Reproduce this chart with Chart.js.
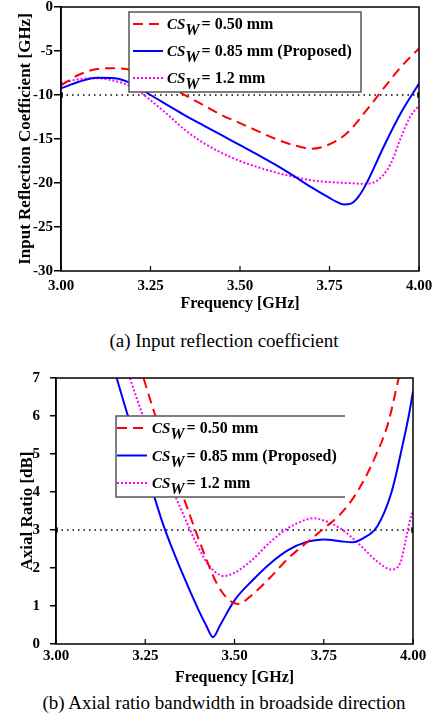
<!DOCTYPE html>
<html>
<head>
<meta charset="utf-8">
<script src="https://cdn.jsdelivr.net/npm/chart.js@4/dist/chart.umd.min.js"></script>
<style>
body { margin: 0; background: #fff; width: 435px; height: 725px; position: relative; overflow: hidden; font-family: "Liberation Serif", serif; }
canvas { position: absolute; left: 0; }
#c1 { top: 0; }
#c2 { top: 360px; }
.cap { position: absolute; left: 224px; transform: translate(-50%, -50%); font-size: 19px; white-space: nowrap; color: #000; }
</style>
</head>
<body>
<canvas id="c1" width="435" height="315"></canvas>
<canvas id="c2" width="435" height="330"></canvas>
<div class="cap" style="top:341px">(a) Input reflection coefficient</div>
<div class="cap" style="top:703px">(b) Axial ratio bandwidth in broadside direction</div>
<script>
// ---------- data ----------
const freqTicks = [3.00, 3.25, 3.50, 3.75, 4.00];
const s11Ticks = [0, -5, -10, -15, -20, -25, -30];
const arTicks = [0, 1, 2, 3, 4, 5, 6, 7];
const csWidths = ["0.50 mm", "0.85 mm (Proposed)", "1.2 mm"];
const s11Limit = -10;
const arLimit = 3;

// (a) input reflection coefficient [dB]
const s11FreqRed = [3.00, 3.05, 3.10, 3.15, 3.20, 3.25, 3.30, 3.35, 3.40, 3.45, 3.50, 3.55, 3.60, 3.65, 3.70, 3.75, 3.80, 3.85, 3.90, 3.95, 4.00];
const s11Red = [-8.9, -7.7, -7.05, -6.95, -7.2, -8.0, -9.0, -10.1, -11.2, -12.3, -13.2, -14.1, -15.0, -15.7, -16.1, -15.6, -14.3, -11.9, -9.3, -6.8, -4.7];

const s11FreqBlue = [3.00, 3.05, 3.10, 3.15, 3.20, 3.25, 3.30, 3.35, 3.40, 3.45, 3.50, 3.55, 3.60, 3.65, 3.70, 3.75, 3.77, 3.79, 3.81, 3.83, 3.85, 3.875, 3.90, 3.95, 4.00];
const s11Blue = [-9.25, -8.5, -8.05, -8.1, -8.75, -10.0, -11.2, -12.4, -13.5, -14.6, -15.7, -16.8, -17.95, -19.2, -20.5, -21.7, -22.15, -22.45, -22.35, -21.6, -20.3, -18.2, -16.0, -12.0, -8.7];

const s11FreqMag = [3.00, 3.05, 3.10, 3.15, 3.20, 3.25, 3.30, 3.35, 3.40, 3.45, 3.50, 3.55, 3.60, 3.65, 3.70, 3.75, 3.80, 3.85, 3.88, 3.90, 3.92, 3.95, 3.975, 4.00];
const s11Mag = [-8.65, -8.2, -8.1, -8.4, -9.1, -10.6, -12.3, -14.1, -15.5, -16.6, -17.5, -18.2, -18.8, -19.3, -19.7, -19.9, -20.0, -20.1, -19.8, -19.1, -17.9, -14.8, -12.5, -11.2];

// (b) axial ratio [dB]
const arFreqRed = [3.22, 3.245, 3.27, 3.30, 3.35, 3.40, 3.45, 3.48, 3.51, 3.55, 3.60, 3.65, 3.70, 3.75, 3.80, 3.85, 3.90, 3.93, 3.96, 3.98];
const arRed = [7.8, 7.0, 6.25, 5.4, 4.05, 2.75, 1.6, 1.2, 1.05, 1.3, 1.75, 2.25, 2.65, 3.04, 3.45, 4.1, 5.05, 5.8, 7.0, 7.8];

const arFreqBlue = [3.14, 3.17, 3.20, 3.25, 3.30, 3.35, 3.40, 3.42, 3.44, 3.46, 3.50, 3.55, 3.60, 3.65, 3.70, 3.75, 3.80, 3.83, 3.86, 3.90, 3.94, 3.97, 3.99, 4.00];
const arBlue = [8.0, 7.0, 6.05, 4.65, 3.15, 1.95, 0.88, 0.5, 0.18, 0.5, 1.15, 1.67, 2.12, 2.47, 2.68, 2.75, 2.7, 2.68, 2.78, 3.1, 4.0, 5.2, 6.1, 6.65];

const arFreqMag = [3.18, 3.207, 3.24, 3.30, 3.35, 3.40, 3.43, 3.47, 3.50, 3.55, 3.60, 3.65, 3.70, 3.72, 3.75, 3.80, 3.85, 3.90, 3.94, 3.965, 3.98, 3.99, 4.00];
const arMag = [7.8, 7.0, 6.1, 4.65, 3.55, 2.52, 2.05, 1.79, 1.87, 2.22, 2.68, 3.05, 3.27, 3.31, 3.25, 3.02, 2.62, 2.17, 1.96, 2.15, 2.75, 3.2, 3.5];

// ---------- styles ----------
const FONT = "Liberation Serif";
const seriesColors = ["#ff0000", "#0000ff", "#ff00ff"];
const seriesDashes = [[10, 6], [], [2, 2]];

// frame around plot + inner x ticks
const framePlugin = {
    id: "frame",
    afterDatasetsDraw(chart) {
        const { ctx, chartArea: a, scales } = chart;
        ctx.save();
        ctx.strokeStyle = "#000";
        ctx.lineWidth = 1.5;
        ctx.strokeRect(a.left, a.top, a.right - a.left, a.bottom - a.top);
        ctx.lineWidth = 1.2;
        freqTicks.forEach(f => {
            const x = scales.x.getPixelForValue(f);
            ctx.beginPath();
            ctx.moveTo(x, a.bottom);
            ctx.lineTo(x, a.bottom - 5);
            ctx.stroke();
        });
        ctx.restore();
    }
};

// boxed legend with CS_W labels
const boxLegend = {
    id: "boxLegend",
    afterDatasetsDraw(chart, args, o) {
        const ctx = chart.ctx;
        ctx.save();
        ctx.fillStyle = "#fff";
        ctx.fillRect(o.x, o.y, o.w, o.h);
        ctx.strokeStyle = "#555";
        ctx.lineWidth = 1.5;
        ctx.beginPath();
        ctx.moveTo(o.x + o.w, o.y);
        ctx.lineTo(o.x, o.y);
        ctx.lineTo(o.x, o.y + o.h);
        ctx.lineTo(o.x + o.w, o.y + o.h);
        if (o.closed) ctx.closePath();
        ctx.stroke();

        csWidths.forEach((txt, i) => {
            const ds = chart.data.datasets[i];
            const y = o.y + o.first + i * o.step;
            ctx.strokeStyle = ds.borderColor;
            ctx.lineWidth = ds.borderWidth;
            ctx.setLineDash(ds.borderDash);
            ctx.beginPath();
            ctx.moveTo(o.x + o.lineFrom, y);
            ctx.lineTo(o.x + o.lineTo, y);
            ctx.stroke();
            ctx.setLineDash([]);

            ctx.fillStyle = "#000";
            ctx.textAlign = "left";
            ctx.textBaseline = "alphabetic";
            let x = o.x + o.textAt;
            ctx.font = `italic bold 15px "${FONT}"`;
            ctx.fillText("CS", x, y + 5);
            x += ctx.measureText("CS").width;
            ctx.font = `italic bold 16px "${FONT}"`;
            ctx.fillText("W", x, y + 11);
            x += ctx.measureText("W").width + 2;
            ctx.font = `bold 16px "${FONT}"`;
            ctx.fillText("= " + txt, x, y + 5);
        });
        ctx.restore();
    }
};

function buildChart(id, c) {
    const datasets = c.series.map((s, i) => ({
        label: "CSW = " + csWidths[i],
        data: s.freq.map((f, k) => ({ x: f, y: s.vals[k] })),
        borderColor: seriesColors[i],
        borderDash: seriesDashes[i],
        borderWidth: 2,
        pointRadius: 0,
        cubicInterpolationMode: "monotone",
        fill: false
    }));
    datasets.push({
        label: "limit",
        data: [{ x: freqTicks[0], y: c.limit }, { x: freqTicks[freqTicks.length - 1], y: c.limit }],
        borderColor: "#000",
        borderWidth: 1.5,
        borderDash: [1.5, 4],
        pointStyle: "triangle",
        pointRotation: [270, 90],
        pointRadius: 3.5,
        pointBackgroundColor: "#000",
        pointBorderColor: "#000",
        pointBorderWidth: 0
    });

    new Chart(document.getElementById(id), {
        type: "line",
        data: { datasets },
        options: {
            responsive: false,
            animation: false,
            devicePixelRatio: 1,
            layout: { padding: { left: 0, top: c.top, right: c.right, bottom: 0 } },
            scales: {
                x: {
                    type: "linear",
                    min: freqTicks[0],
                    max: freqTicks[freqTicks.length - 1],
                    afterBuildTicks: s => { s.ticks = freqTicks.map(v => ({ value: v })); },
                    ticks: {
                        callback: v => v.toFixed(2),
                        color: "#000",
                        font: { family: FONT, weight: "bold", size: 15 },
                        padding: c.xPad,
                        maxRotation: 0,
                        autoSkip: false
                    },
                    grid: { display: false, drawTicks: false },
                    border: { display: false },
                    title: {
                        display: true,
                        text: "Frequency [GHz]",
                        color: "#000",
                        font: { family: FONT, weight: "bold", size: 16 },
                        padding: { top: 0, bottom: c.xTitlePad }
                    },
                    afterFit: s => { s.height = c.xHeight; s.paddingLeft = 0; s.paddingRight = 0; }
                },
                y: {
                    type: "linear",
                    min: c.yMin,
                    max: c.yMax,
                    afterBuildTicks: s => { s.ticks = c.yTicks.map(v => ({ value: v })); },
                    ticks: {
                        callback: v => String(v),
                        color: "#000",
                        font: { family: FONT, weight: "bold", size: 15 },
                        padding: c.yPad
                    },
                    grid: { drawOnChartArea: false, drawTicks: true, tickLength: c.yTick, color: "#000", lineWidth: 1.5 },
                    border: { display: true, color: "#000", width: 1.5 },
                    title: {
                        display: true,
                        text: c.yTitle,
                        color: "#000",
                        font: { family: FONT, weight: "bold", size: 17 },
                        padding: { top: c.yTitlePad, bottom: 0 }
                    },
                    afterFit: s => { s.width = c.yWidth; s.paddingTop = 0; s.paddingBottom = 0; }
                }
            },
            plugins: {
                legend: { display: false },
                tooltip: { enabled: false },
                boxLegend: c.legend
            }
        },
        plugins: [framePlugin, boxLegend]
    });
}

// (a)
buildChart("c1", {
    series: [
        { freq: s11FreqRed, vals: s11Red },
        { freq: s11FreqBlue, vals: s11Blue },
        { freq: s11FreqMag, vals: s11Mag }
    ],
    limit: s11Limit,
    yMin: -30, yMax: 0, yTicks: s11Ticks,
    yTitle: "Input Reflection Coefficient [GHz]",
    top: 7, right: 16, yWidth: 61, xHeight: 44,
    yTick: 7, yPad: 1, yTitlePad: 15, xPad: 6, xTitlePad: 2,
    legend: { x: 129, y: 12, w: 232, h: 80, first: 12, step: 27, lineFrom: 4, lineTo: 34, textAt: 38, closed: true }
});

// (b)
buildChart("c2", {
    series: [
        { freq: arFreqRed, vals: arRed },
        { freq: arFreqBlue, vals: arBlue },
        { freq: arFreqMag, vals: arMag }
    ],
    limit: arLimit,
    yMin: 0, yMax: 7, yTicks: arTicks,
    yTitle: "Axial Ratio [dB]",
    top: 18, right: 22, yWidth: 56, xHeight: 46,
    yTick: 6, yPad: 10, yTitlePad: 17, xPad: 3, xTitlePad: 3,
    legend: { x: 116, y: 56, w: 229, h: 81, first: 12, step: 27.5, lineFrom: 1, lineTo: 31, textAt: 36, closed: false }
});
</script>
</body>
</html>
